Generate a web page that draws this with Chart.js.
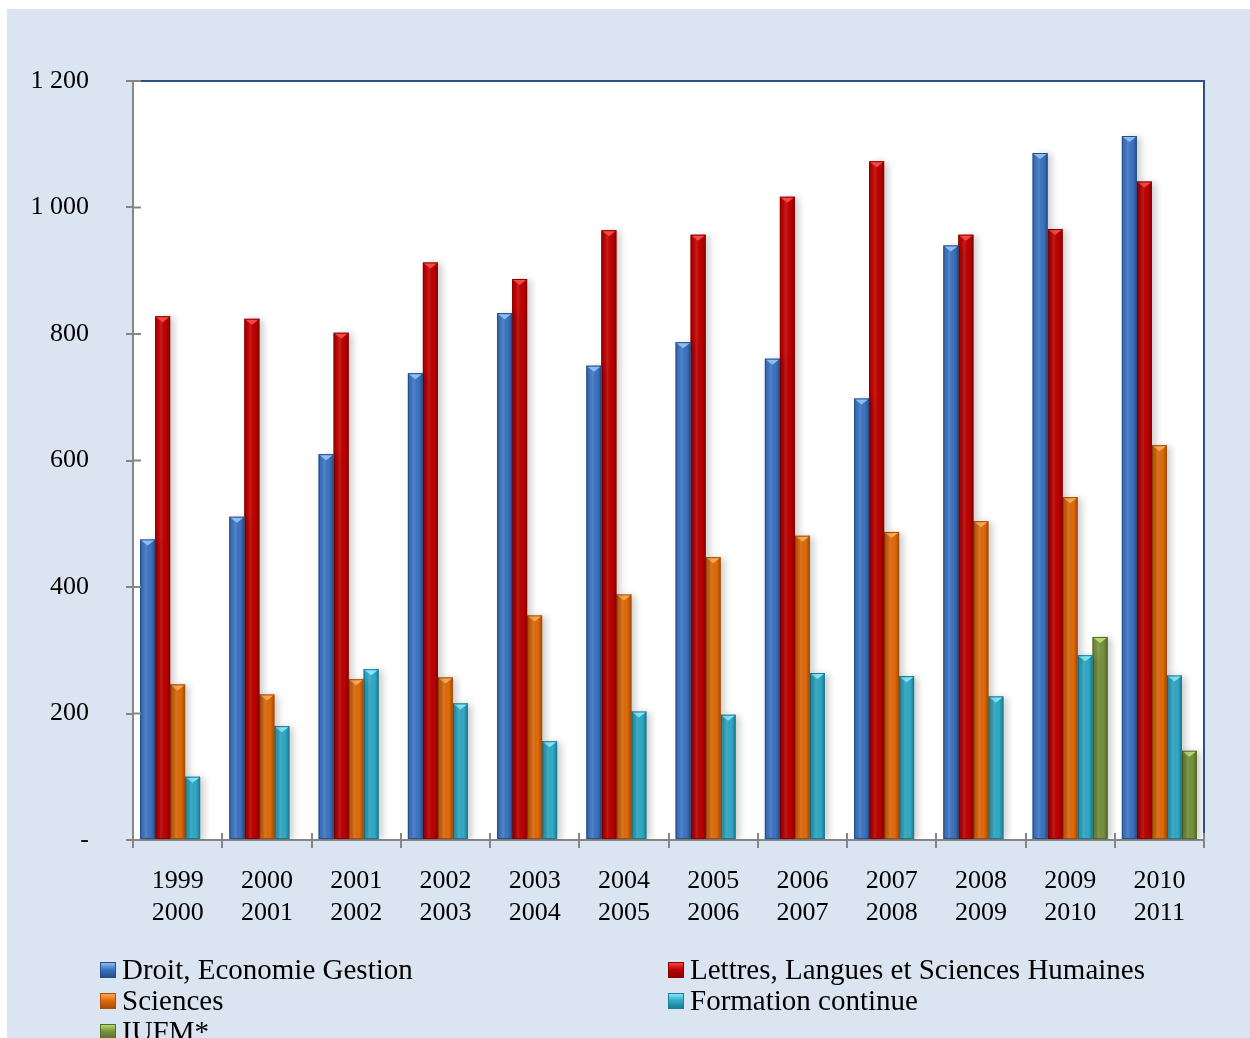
<!DOCTYPE html>
<html>
<head>
<meta charset="utf-8">
<script src="https://cdn.jsdelivr.net/npm/chart.js@4/dist/chart.umd.min.js"></script>
<style>
  html, body { margin: 0; padding: 0; background: #dbe5f1; overflow: hidden; }
  #wrap { position: relative; width: 1250px; height: 1038px; }
  #chart { position: absolute; left: 0; top: 0; }
  #legend {
    position: absolute; left: 0; top: 0; width: 1250px; height: 1038px;
    font-family: "Liberation Serif", "Times New Roman", serif; font-size: 29px; color: #000;
    pointer-events: none;
  }
  .item { position: absolute; display: flex; align-items: center; white-space: nowrap; line-height: 31px; }
  .box { width: 16px; height: 16px; margin-right: 6px; box-sizing: border-box; }
</style>
</head>
<body>
<div id="wrap">
  <canvas id="chart" width="1250" height="1038"></canvas>
  <div id="legend"></div>
</div>
<script>
const years = [
  ["1999", "2000"], ["2000", "2001"], ["2001", "2002"], ["2002", "2003"],
  ["2003", "2004"], ["2004", "2005"], ["2005", "2006"], ["2006", "2007"],
  ["2007", "2008"], ["2008", "2009"], ["2009", "2010"], ["2010", "2011"]
]
const seriesNames = ["Droit, Economie Gestion", "Lettres, Langues et Sciences Humaines", "Sciences", "Formation continue", "IUFM*"]
const droit = [475, 511, 610, 738, 833, 750, 787, 761, 698, 940, 1086, 1113]
const lettres = [828, 824, 802, 913, 887, 964, 957, 1017, 1073, 957, 966, 1041]
const sciences = [246, 230, 254, 257, 355, 388, 447, 481, 487, 504, 542, 624]
const formation = [100, 180, 270, 216, 156, 203, 198, 264, 259, 227, 292, 260]
const iufm = [null, null, null, null, null, null, null, null, null, null, 321, 141]
const yTicks = [0, 200, 400, 600, 800, 1000, 1200]

// base / edge / highlight per series
const palette = [
  { base: "#3c74c2", edge: "#264f88", tip: "#8cbcf2" },
  { base: "#c00000", edge: "#8c0000", tip: "#f24848" },
  { base: "#e46c0a", edge: "#a84e06", tip: "#fbab55" },
  { base: "#31acca", edge: "#1b7d96", tip: "#84e6fa" },
  { base: "#77933c", edge: "#566d28", tip: "#b8d870" }
]

const fmt = v => v === 0 ? "-" : (v >= 1000 ? Math.floor(v / 1000) + " " + String(v % 1000).padStart(3, "0") : String(v))
const serif = "'Liberation Serif', 'Times New Roman', serif"

const panelBg = {
  id: "panelBg",
  beforeDraw(chart) {
    const ctx = chart.ctx
    ctx.save()
    ctx.fillStyle = "#fff"
    ctx.fillRect(0, 0, chart.width, chart.height)
    ctx.fillStyle = "#dbe5f1"
    ctx.fillRect(7, 9, chart.width, chart.height)
    const a = chart.chartArea
    ctx.fillStyle = "#fff"
    ctx.fillRect(a.left, a.top, a.right - a.left, a.bottom - a.top)
    ctx.restore()
  },
  afterDraw(chart) {
    const ctx = chart.ctx, a = chart.chartArea
    ctx.save()
    ctx.strokeStyle = "#2c5187"
    ctx.lineWidth = 2
    ctx.beginPath()
    ctx.moveTo(a.left, a.top)
    ctx.lineTo(a.right, a.top)
    ctx.lineTo(a.right, a.bottom - 7)
    ctx.stroke()
    // tick marks cross the axis lines
    ctx.strokeStyle = "#868686"
    ctx.beginPath()
    chart.scales.y.ticks.forEach(t => {
      const py = chart.scales.y.getPixelForValue(t.value)
      ctx.moveTo(a.left, py)
      ctx.lineTo(a.left + 8, py)
    })
    const xs = chart.scales.x
    for (let i = 0; i <= years.length; i++) {
      const px = Math.round(xs.left + (xs.right - xs.left) * i / years.length)
      ctx.moveTo(px, a.bottom)
      ctx.lineTo(px, a.bottom - 7)
    }
    ctx.stroke()
    ctx.restore()
  }
}

// bevel look on each bar
const bevel = {
  id: "bevel",
  beforeDatasetDraw(chart) {
    const ctx = chart.ctx
    ctx.save()
    ctx.shadowColor = "rgba(0,0,0,0.2)"
    ctx.shadowBlur = 7
    ctx.shadowOffsetX = 4
    ctx.shadowOffsetY = 1
  },
  afterDatasetDraw(chart, args) {
    const ctx = chart.ctx
    ctx.restore()
    const p = palette[args.index]
    args.meta.data.forEach(bar => {
      const { x, y, base, width } = bar.getProps(["x", "y", "base", "width"], true)
      if (!isFinite(y) || base - y < 1) return
      const l = x - width / 2, r = x + width / 2
      ctx.save()
      const g = ctx.createLinearGradient(l, 0, r, 0)
      g.addColorStop(0, "rgba(0,0,0,0.28)")
      g.addColorStop(0.12, "rgba(0,0,0,0.05)")
      g.addColorStop(0.4, "rgba(255,255,255,0.12)")
      g.addColorStop(0.7, "rgba(0,0,0,0)")
      g.addColorStop(1, "rgba(0,0,0,0.3)")
      ctx.fillStyle = g
      ctx.fillRect(l, y, width, base - y)
      ctx.strokeStyle = p.edge
      ctx.lineWidth = 1
      ctx.strokeRect(l + 0.5, y + 0.5, width - 1, base - y - 1)
      ctx.fillStyle = p.tip
      ctx.beginPath()
      ctx.moveTo(l + 1, y + 1)
      ctx.lineTo(r - 1, y + 1)
      ctx.lineTo(x, y + 6)
      ctx.closePath()
      ctx.fill()
      ctx.restore()
    })
  }
}

const allData = [droit, lettres, sciences, formation, iufm]

const config = {
  type: "bar",
  data: {
    labels: years,
    datasets: allData.map((d, i) => ({
      label: seriesNames[i],
      data: d,
      backgroundColor: palette[i].base,
      borderWidth: 0,
      categoryPercentage: 0.84,
      barPercentage: 1
    }))
  },
  options: {
    responsive: false,
    animation: false,
    layout: { padding: { top: 81, right: 46, left: 0, bottom: 0 } },
    scales: {
      x: {
        grid: { drawOnChartArea: false, color: "#868686", lineWidth: 2, tickLength: 8, offset: true },
        border: { color: "#868686", width: 2 },
        ticks: { color: "#000", font: { family: serif, size: 26, lineHeight: 1.2 }, padding: 18, maxRotation: 0, autoSkip: false },
        afterFit(scale) { scale.height = 198 }
      },
      y: {
        min: 0, max: 1200,
        afterBuildTicks(scale) { scale.ticks = yTicks.map(v => ({ value: v })) },
        grid: { drawOnChartArea: false, color: "#868686", lineWidth: 2, tickLength: 7 },
        border: { color: "#868686", width: 2 },
        ticks: { color: "#000", font: { family: serif, size: 26 }, padding: 37, callback: v => fmt(v) },
        afterFit(scale) { scale.width = 133 }
      }
    },
    plugins: {
      legend: { display: false },
      tooltip: { enabled: false }
    }
  },
  plugins: [panelBg, bevel]
}

new Chart(document.getElementById("chart"), config)

// legend, two columns like the original
const legendPos = [[100, 954], [668, 954], [100, 985], [668, 985], [100, 1016]]
const legendEl = document.getElementById("legend")
seriesNames.forEach((name, i) => {
  const p = palette[i]
  const item = document.createElement("div")
  item.className = "item"
  item.style.left = legendPos[i][0] + "px"
  item.style.top = legendPos[i][1] + "px"
  const box = document.createElement("div")
  box.className = "box"
  box.style.background = `linear-gradient(to bottom, ${p.tip} 0%, ${p.base} 45%, ${p.edge} 100%)`
  box.style.border = `1px solid ${p.edge}`
  const txt = document.createElement("span")
  txt.textContent = name
  item.appendChild(box)
  item.appendChild(txt)
  legendEl.appendChild(item)
})
</script>
</body>
</html>
